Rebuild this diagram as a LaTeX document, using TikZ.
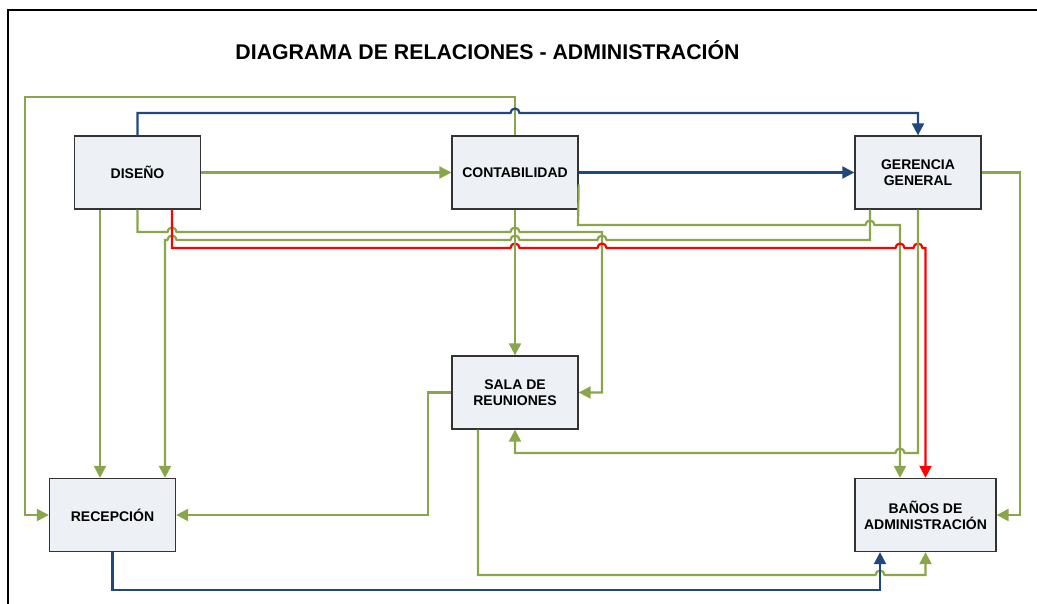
\documentclass[tikz,border=0pt]{standalone}
\usepackage{fontspec}
\setmainfont{Liberation Sans}
\usetikzlibrary{arrows.meta}
\definecolor{lineGreen}{RGB}{138,166,74}
\definecolor{lineBlue}{RGB}{31,73,125}
\definecolor{boxFill}{RGB}{237,240,245}
% line jumps: over a crossing, going right / going left
\newcommand{\hopr}[2]{-- (#1-4.5,#2) arc[start angle=180,end angle=0,radius=4.5pt]}
\newcommand{\hopl}[2]{-- (#1+4.5,#2) arc[start angle=0,end angle=180,radius=4.5pt]}
\tikzset{
  area/.style={draw=black!80, line width=1.3pt, fill=boxFill, minimum width=126pt, minimum height=73pt,
    inner sep=0pt, align=center, font=\bfseries\fontsize{14}{16}\selectfont},
  tip/.style={-{Triangle[length=12pt,width=12pt]}},
  gline/.style={draw=lineGreen, line width=2.2pt, tip},
  bline/.style={draw=lineBlue, line width=2.2pt, tip},
  rline/.style={draw=red, line width=2.2pt, tip}
}
\begin{document}
\begin{tikzpicture}[x=1pt,y=-1pt]
    \useasboundingbox (0,0) rectangle (1037,604);
    \draw[line width=1.5pt] (8,604) -- (8,10) -- (1037,10);
    \node (title) at (487.5,50) {\bfseries\fontsize{21.3}{25}\selectfont DIAGRAMA DE RELACIONES - ADMINISTRACIÓN};
    \path (137.5,172.5) node[area](dis) {DISEÑO} (515,172.5) node[area](cont) {CONTABILIDAD} (918,172.5) node[area](ger) {GERENCIA\\GENERAL} (515,392.5) node[area](sala) {SALA DE\\REUNIONES} (112.5,515) node[area](rec) {RECEPCIÓN} (925.5,515) node[area, minimum width=141pt](banos) {BAÑOS DE\\ADMINISTRACIÓN};
    \draw[gline] (cont.north) -- (515,97) -- (25,97) |- (rec.west);
    \draw[bline] (dis.north) -- (137.5,113) \hopr{515}{113} -- (918,113) -- (ger.north);
    \draw[gline] (dis.east) -- (cont.west);
    \draw[bline] (cont.east) -- (ger.west);
    \draw[gline] ([xshift=-37.5pt]dis.south) -- ([xshift=-12.5pt]rec.north);
    \draw[gline] (dis.south) -- (137.5,232) \hopr{172}{232} \hopr{515}{232} -- (602,232) |- (sala.east);
    \draw[gline] ([xshift=-48pt]ger.south) -- (870,240) \hopl{602}{240} \hopl{515}{240} \hopl{172}{240} -- (165,240) -- ([xshift=52.5pt]rec.north);
    \draw[gline] ([yshift=-12pt]cont.east) -- (578,225) \hopr{870}{225} -- (900,225) -- ([xshift=-25.5pt]banos.north);
    \draw[rline] ([xshift=34.5pt]dis.south) -- (172,248) \hopr{515}{248} \hopr{602}{248} \hopr{900}{248} \hopr{918}{248} -- (925.5,248) -- (banos.north);
    \draw[gline] (ger.south) -- (918,453) \hopl{900}{453} -- (515,453) -- (sala.south);
    \draw[gline] (cont.south) -- (sala.north);
    \draw[gline] (ger.east) -- (1020,172.5) |- (banos.east);
    \draw[gline] (sala.west) -- (428,392.5) |- (rec.east);
    \draw[gline] ([xshift=-37pt]sala.south) -- (478,575) \hopr{880}{575} -- (925.5,575) -- (banos.south);
    \draw[bline] (rec.south) -- (112.5,590) -- (880,590) -- ([xshift=-45.5pt]banos.south);
\end{tikzpicture}
\end{document}
